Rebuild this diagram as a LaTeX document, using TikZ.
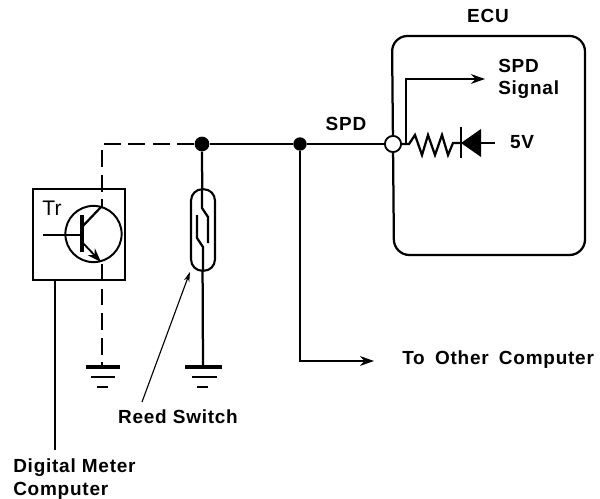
\documentclass[tikz,border=0pt]{standalone}
\usepackage{fontspec}
\setmainfont{Liberation Sans}
\newfontfamily\lblfont[LetterSpace=4]{Liberation Sans}
\usetikzlibrary{arrows,arrows.meta,positioning}
\tikzstyle{wire} = [line width=1.6pt]
\tikzstyle{thinwire} = [line width=0.8pt]
\tikzstyle{dashwire} = [line width=1.9pt,dash pattern=on 12pt off 5.5pt]
\tikzstyle{arrow} = [line width=1.3pt,-{Stealth[length=10pt,width=7pt]}]
\tikzstyle{lbl} = [font=\lblfont\bfseries\fontsize{13.5}{16}\selectfont,align=left,inner sep=0pt]
\tikzstyle{dotnode} = [circle,fill=black,inner sep=0pt,minimum size=10.5pt]
\begin{document}
\begin{tikzpicture}[x=0.025cm,y=-0.025cm]
    \useasboundingbox (0,0) rectangle (600,499);
    % ECU
    \draw [wire,rounded corners=11pt] (393,144) -- (392,36) -- (585,36) -- (585,255) -- (394,255) -- (393,144);
    \node [lbl] (ecu) at (488,16) {ECU};
    \coordinate (pin) at (393,144);
    \coordinate (tap) at (406,144);
    \coordinate (diode) at (461,143);
    \coordinate (vcc) at (495,143);
    \node [lbl] (vlabel) at (522,142) {5V};
    \node [lbl,anchor=west] (sig) at (498,79) {SPD\\Signal};
    \coordinate (sigend) at (485,79);
    \draw [arrow] (tap) -- (406,79) -- (sigend);
    \draw [wire] (pin) -- (tap) -- (409,144) -- (415,135) -- (422,155) -- (428,135) -- (435,155) -- (442,135) -- (448,155) -- (453,143) -- (diode);
    \draw [wire] (461,127) -- (461,158);
    \fill (diode) -- (481,129) -- (481,157) -- cycle;
    \draw [wire] (481,143) -- (vcc);
    % bus
    \node [dotnode] (j1) at (202,144) {};
    \node [dotnode,minimum size=9.5pt] (j2) at (300,144) {};
    \node [circle,draw,fill=white,line width=1.3pt,inner sep=0pt,minimum size=11.5pt] (open) at (393,144) {};
    \node [lbl] (spd) at (346,124) {SPD};
    \draw [wire] (j1) -- (j2) -- (open);
    \coordinate (other) at (374,361);
    \node [lbl,anchor=west] (to) at (402,360) {To\hspace{3pt} Other\hspace{3pt} Computer};
    \draw [arrow] (j2) -- (300,361) -- (other);
    % transistor
    \draw [wire] (33,189) rectangle (125,280);
    \node [font=\fontsize{15}{17}\selectfont,inner sep=0pt] (tr) at (52,208) {Tr};
    \node [circle,draw,line width=1.4pt,inner sep=0pt,minimum size=40pt] (q) at (93.5,234) {};
    \coordinate (base) at (82,235);
    \coordinate (cin) at (43,235);
    \draw [wire] (cin) -- (base);
    \draw [line width=2.2pt] (82,215) -- (82,252);
    \draw [wire] (82,227) -- (101,207);
    \draw [arrow] (82,242) -- (101,262);
    \draw [dashwire] (j1) -- (102,144) -- (102,207);
    \draw [dashwire] (102,264) -- (102,366);
    % grounds
    \draw [line width=2.6pt] (86,367) -- (120,367);
    \draw [line width=2pt] (91,377) -- (115,377);
    \draw [line width=2pt] (97,387) -- (108,387);
    % reed switch
    \draw [wire] (j1) -- (203,367);
    \node [draw,fill=white,line width=1.5pt,rounded corners=8pt,minimum width=17pt,minimum height=58pt,inner sep=0pt] (reed) at (203,230) {};
    \draw [wire] (202,189) -- (202,208) -- (208,217) -- (208,243);
    \draw [wire] (197,215) -- (197,238) -- (203,247) -- (203,271);
    \draw [line width=2.6pt] (185,367) -- (222,367);
    \draw [line width=2pt] (192,377) -- (217,377);
    \draw [line width=2pt] (197,387) -- (208,387);
    \node [lbl] (rs) at (178,417) {Reed Switch};
    \coordinate (rstail) at (142,402);
    \draw [line width=0.8pt,-{Stealth[length=7pt,width=4pt]}] (rstail) -- (reed.south west);
    \node [lbl,anchor=west] (dmc) at (13,479) {Digital Meter\\Computer};
    \coordinate (dmctail) at (55,450);
    \draw [thinwire] (dmctail) -- (55,280);
\end{tikzpicture}
\end{document}
